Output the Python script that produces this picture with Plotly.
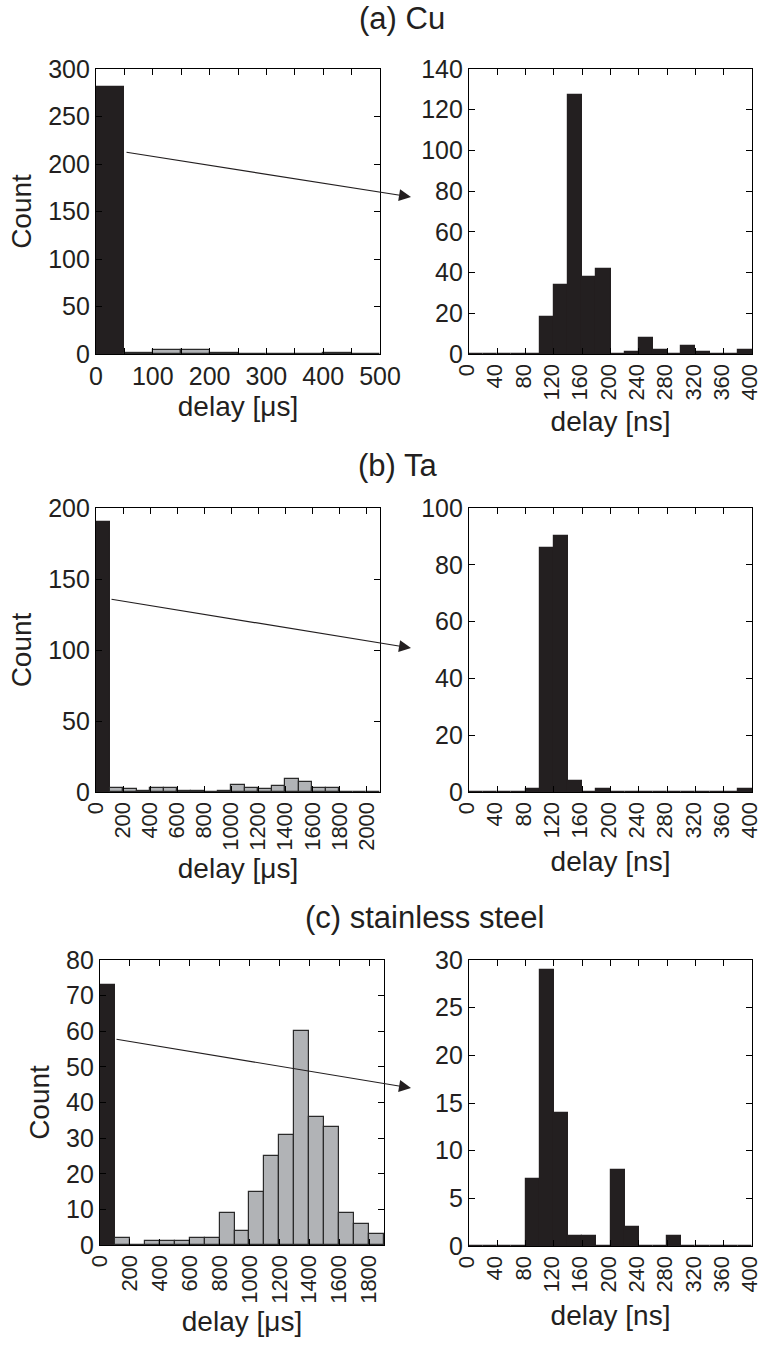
import plotly.graph_objects as go

W, H = 764, 1345

# ---------------- data ----------------
# (a) Cu, left: bin width 50 us
cu_us_width = 50
cu_us_black = [281]
cu_us_gray = [1, 4, 4, 1, 0, 0, 0, 1, 0]
# (a) Cu, right: bin width 20 ns
cu_ns_width = 20
cu_ns_counts = [0, 0, 0, 0, 0, 18, 34, 127, 38, 42, 0, 1, 8, 2, 0, 4, 1, 0, 0, 2]

# (b) Ta, left: bin width 100 us
ta_us_width = 100
ta_us_black = [190]
ta_us_gray = [3, 2, 1, 3, 3, 1, 1, 0, 1, 5, 3, 2, 4, 9, 7, 3, 3, 0, 0, 0]
ta_ns_width = 20
ta_ns_counts = [0, 0, 0, 0, 1, 86, 90, 4, 0, 1, 0, 0, 0, 0, 0, 0, 0, 0, 0, 1]

# (c) stainless steel, left: bin width 100 us
ss_us_width = 100
ss_us_black = [73]
ss_us_gray = [2, 0, 1, 1, 1, 2, 2, 9, 4, 15, 25, 31, 60, 36, 33, 9, 6, 3]
ss_ns_width = 20
ss_ns_counts = [0, 0, 0, 0, 7, 29, 14, 1, 1, 0, 8, 2, 0, 0, 1, 0, 0, 0, 0, 0]

titles = ["(a) Cu", "(b) Ta", "(c) stainless steel"]
us_label = "delay [μs]"
ns_label = "delay [ns]"
y_label = "Count"

# ---------------- style ----------------
BLACK = "#231f20"
GRAY = "#b1b3b6"
FONT = "Liberation Sans, Arial, Helvetica, sans-serif"
TICK_SIZE = 25
ROT_TICK_SIZE = 22
LABEL_SIZE = 28
TITLE_SIZE = 31


def px_dom_x(a, b):
    return [a / W, b / W]


def px_dom_y(top, bottom):
    return [1 - bottom / H, 1 - top / H]


fig = go.Figure()


def add_bars(counts, width, start_index, color, axis_n, edge):
    xs = [width * (start_index + i + 0.5) for i in range(len(counts))]
    fig.add_trace(go.Bar(
        x=xs, y=counts, width=[width] * len(counts),
        marker=dict(color=color, line=dict(color=edge, width=1.2)),
        xaxis="x" if axis_n == 1 else f"x{axis_n}",
        yaxis="y" if axis_n == 1 else f"y{axis_n}",
        showlegend=False, hoverinfo="skip",
    ))


add_bars(cu_us_black, cu_us_width, 0, BLACK, 1, BLACK)
add_bars(cu_us_gray, cu_us_width, 1, GRAY, 1, "#2a2a2a")
add_bars(cu_ns_counts, cu_ns_width, 0, BLACK, 2, BLACK)
add_bars(ta_us_black, ta_us_width, 0, BLACK, 3, BLACK)
add_bars(ta_us_gray, ta_us_width, 1, GRAY, 3, "#2a2a2a")
add_bars(ta_ns_counts, ta_ns_width, 0, BLACK, 4, BLACK)
add_bars(ss_us_black, ss_us_width, 0, BLACK, 5, BLACK)
add_bars(ss_us_gray, ss_us_width, 1, GRAY, 5, "#2a2a2a")
add_bars(ss_ns_counts, ss_ns_width, 0, BLACK, 6, BLACK)

common = dict(
    showline=True, linecolor="black", linewidth=1.2, mirror="ticks",
    ticks="inside", ticklen=6, tickwidth=1.2, tickcolor="black",
    showgrid=False, zeroline=False, automargin=False,
    ticklabeloverflow="allow",
    tickfont=dict(family=FONT, size=TICK_SIZE, color="#231f20"),
)

panels = [
    ((96, 380), (69, 354), [0, 500], 100, [0, 300], 50, 0, us_label, y_label, 7),
    ((469, 752), (69, 354), [0, 400], 40, [0, 140], 20, -90, ns_label, None, 11),
    ((96, 380), (508, 792), [0, 2100], 200, [0, 200], 50, -90, us_label, y_label, 8),
    ((469, 752), (508, 792), [0, 400], 40, [0, 100], 20, -90, ns_label, None, 13),
    ((100, 384), (960, 1245), [0, 1900], 200, [0, 80], 10, -90, us_label, y_label, 8),
    ((469, 752), (960, 1246), [0, 400], 40, [0, 30], 5, -90, ns_label, None, 13),
]

layout = {}
for i, (xd, yd, xr, xdt, yr, ydt, ang, xl, yl, so) in enumerate(panels, start=1):
    xk = "xaxis" if i == 1 else f"xaxis{i}"
    yk = "yaxis" if i == 1 else f"yaxis{i}"
    xa = dict(common, domain=px_dom_x(*xd), range=xr, tick0=0, dtick=xdt,
              tickangle=ang, anchor="y" if i == 1 else f"y{i}",
              title=dict(text=xl, font=dict(family=FONT, size=LABEL_SIZE, color="#231f20"),
                         standoff=so))
    if ang != 0:
        xa["tickfont"] = dict(family=FONT, size=ROT_TICK_SIZE, color="#231f20")
    if i % 2 == 0:
        xa["ticklabelshift"] = -2
    if i == 1:
        xa["minor"] = dict(dtick=50, tick0=0, ticks="inside", ticklen=6,
                           tickwidth=1.2, tickcolor="black", showgrid=False)
    ya = dict(common, domain=px_dom_y(*yd), range=yr, tick0=0, dtick=ydt,
              anchor="x" if i == 1 else f"x{i}")
    if yl:
        ya["title"] = dict(text=yl, font=dict(family=FONT, size=LABEL_SIZE, color="#231f20"),
                           standoff=8)
    layout[xk] = xa
    layout[yk] = ya

fig.update_layout(**layout)

title_pos = [(402, 18), (397, 465), (425, 917)]
for t, (cx, cy) in zip(titles, title_pos):
    fig.add_annotation(text=t, x=cx / W, y=1 - cy / H, xref="paper", yref="paper",
                       showarrow=False, xanchor="center", yanchor="middle",
                       font=dict(family=FONT, size=TITLE_SIZE, color="#231f20"))

arrows = [((411, 197), (125, 152)), ((411, 648), (110, 599)), ((411, 1088), (115, 1039))]
for (tx, ty), (sx, sy) in arrows:
    fig.add_annotation(x=tx / W, y=1 - ty / H, xref="paper", yref="paper",
                       ax=sx - tx, ay=sy - ty, axref="pixel", ayref="pixel",
                       showarrow=True, arrowhead=2, arrowsize=2.0, arrowwidth=1.2,
                       arrowcolor="#231f20", text="")

fig.update_layout(
    width=W, height=H, margin=dict(l=0, r=0, t=0, b=0, autoexpand=False),
    paper_bgcolor="white", plot_bgcolor="white",
    barmode="overlay", bargap=0,
    font=dict(family=FONT, color="#231f20"),
)

fig.write_html("out.html")
